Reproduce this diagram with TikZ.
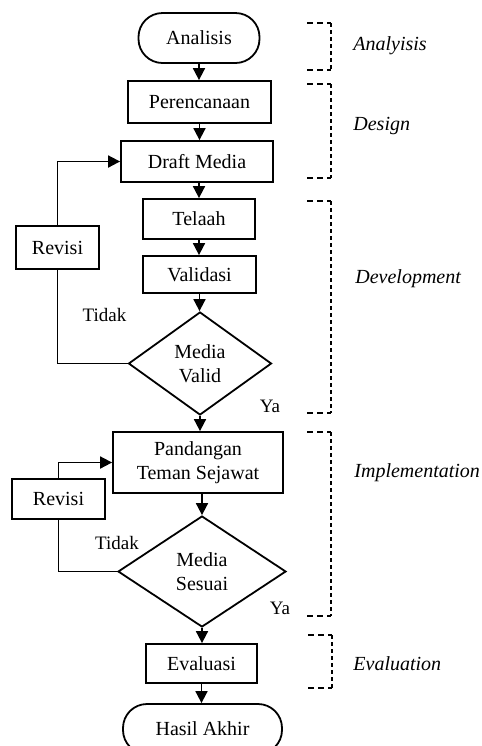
\documentclass[tikz,border=0pt]{standalone}
\usepackage{fontspec}
\setmainfont{Liberation Serif}
\usetikzlibrary{shapes.geometric,arrows.meta}
\begin{document}
\begin{tikzpicture}[x=0.5pt,y=-0.5pt,
  box/.style={draw,line width=0.9pt,inner sep=0pt,align=center,font=\fontsize{10}{12}\selectfont},
  term/.style={box,rounded corners=12pt},
  dec/.style={draw,diamond,line width=0.9pt,inner sep=0pt,align=center,font=\fontsize{10}{12}\selectfont},
  arr/.style={line width=0.9pt,-{Triangle[length=6pt,width=6pt]}},
  ln/.style={line width=0.9pt},
  lbl/.style={inner sep=0pt,font=\fontsize{9.5}{11}\selectfont},
  phase/.style={anchor=base west,inner sep=0pt,font=\fontsize{10}{12}\selectfont\itshape},
  brk/.style={line width=0.7pt,dash pattern=on 2pt off 1.5pt},
  bh/.style={line width=0.7pt,dash pattern=on 3pt off 2pt}]
\useasboundingbox (0,0) rectangle (482,746);
\clip (0,0) rectangle (482,746);

% main flow
\node[term,minimum width=60.5pt,minimum height=25pt] (ana) at (199,38) {Analisis};
\node[box,minimum width=71.5pt,minimum height=21pt] (per) at (199.5,102) {Perencanaan};
\node[box,minimum width=76pt,minimum height=20.5pt] (dra) at (197,161.5) {Draft Media};
\node[box,minimum width=56pt,minimum height=20pt] (tel) at (199,219) {Telaah};
\node[box,minimum width=56.5pt,minimum height=18.5pt] (val) at (199.5,274.5) {Validasi};
\node[dec,minimum width=71.5pt,minimum height=51.5pt] (mv) at (200,363.5) {Media\\Valid};
\node[box,minimum width=85pt,minimum height=30.5pt] (pan) at (198,462.5) {Pandangan\\Teman Sejawat};
\node[dec,minimum width=84pt,minimum height=55.5pt] (ms) at (202,571.5) {Media\\Sesuai};
\node[box,minimum width=55.5pt,minimum height=19.5pt] (eva) at (201.5,663.5) {Evaluasi};
\node[term,minimum width=79.5pt,minimum height=25pt] (has) at (202.5,729) {Hasil Akhir};

% revision boxes
\node[box,minimum width=41.5pt,minimum height=21.5pt] (rv1) at (57.5,247.5) {Revisi};
\node[box,minimum width=46.5pt,minimum height=20pt] (rv2) at (58.5,499) {Revisi};

% arrows
\draw[arr] (ana) -- (ana |- per.north);
\draw[arr] (per) -- (per |- dra.north);
\draw[arr] (tel |- dra.south) -- (tel.north);
\draw[arr] (tel) -- (tel |- val.north);
\draw[arr] (val) -- (val |- mv.north);
\draw[arr] (mv) -- (mv |- pan.north);
\draw[arr] (ms |- pan.south) -- (ms.north);
\draw[arr] (ms) -- (ms |- eva.north);
\draw[arr] (eva) -- (eva |- has.north);

\draw[arr] (rv1.north) |- (dra.west);
\draw[ln] (mv.west) -| (rv1.south);
\draw[arr] (rv2.north) |- (pan.west);
\draw[ln] (ms.west) -| (rv2.south);

% labels
\node[lbl] (t1) at (104.5,315) {Tidak};
\node[lbl] (y1) at (270,406) {Ya};
\node[lbl] (t2) at (117,543) {Tidak};
\node[lbl] (y2) at (280,608) {Ya};

% phase brackets
\coordinate (a1) at (331,23); \coordinate (a2) at (331,70);
\coordinate (d1) at (331,84); \coordinate (d2) at (331,178);
\coordinate (v1) at (331,201); \coordinate (v2) at (331,413);
\coordinate (i1) at (331,432); \coordinate (i2) at (331,616);
\coordinate (e1) at (332,635); \coordinate (e2) at (332,688);
\foreach \p in {a,d,v,i,e}{
  \draw[bh] ([xshift=-12pt]\p1) -- (\p1);
  \draw[bh] ([xshift=-12pt]\p2) -- (\p2);
  \draw[brk] (\p1) -- (\p2);
}
\node[phase] (pa) at (353,50) {Analyisis};
\node[phase] (pd) at (353,130) {Design};
\node[phase] (pv) at (355,283) {Development};
\node[phase] (pi) at (354,477) {Implementation};
\node[phase] (pe) at (353,670) {Evaluation};
\end{tikzpicture}
\end{document}
